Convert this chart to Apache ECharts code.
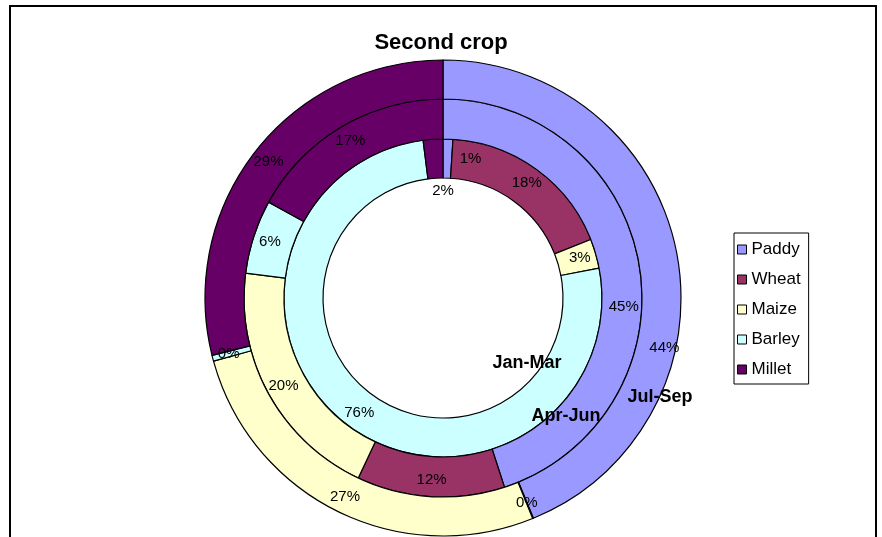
<!DOCTYPE html>
<html>
<head>
<meta charset="utf-8">
<script src="https://cdn.jsdelivr.net/npm/echarts@6/dist/echarts.min.js"></script>
<style>
  html, body { margin: 0; padding: 0; background: #fff; }
  #chart { width: 882px; height: 537px; }
</style>
</head>
<body>
<div id="chart"></div>
<script>
// Crop categories and their colours
const crops = ['Paddy', 'Wheat', 'Maize', 'Barley', 'Millet'];
const cropColors = ['#9999FF', '#993366', '#FFFFCC', '#CCFFFF', '#660066'];

// Share of second-crop area per quarter (percent)
const quarters = ['Jan-Mar', 'Apr-Jun', 'Jul-Sep'];
const janMar = [1, 18, 3, 76, 2];
const aprJun = [45, 12, 20, 6, 17];
const julSep = [44, 0.05, 27, 0.4, 29];
const quarterValues = [janMar, aprJun, julSep];

const FONT = '"Liberation Sans", Arial, sans-serif';
const center = [443, 298];
const ringRadii = [[120, 159], [159, 199], [199, 238]];

// Nudges for a few percentage labels, keyed by ring and crop (pixels)
const labelNudges = {
  'Jan-Mar': { Paddy: [23, 3], Millet: [9, 35] },
  'Apr-Jun': { Paddy: [1, 37] },
  'Jul-Sep': { Paddy: [4, 93] }
};

const chart = echarts.init(document.getElementById('chart'), null, { renderer: 'canvas' });

const series = quarters.map((q, i) => ({
  name: q,
  type: 'pie',
  center: center,
  radius: ringRadii[i],
  startAngle: 90,
  clockwise: true,
  animation: false,
  silent: true,
  percentPrecision: 0,
  avoidLabelOverlap: false,
  label: {
    show: true,
    position: 'inside',
    formatter: '{d}%',
    color: '#000',
    fontSize: 15,
    fontFamily: FONT
  },
  labelLine: { show: false },
  labelLayout: function (p) {
    const n = (labelNudges[q] || {})[crops[p.dataIndex]];
    return n ? { dx: n[0], dy: n[1] } : {};
  },
  itemStyle: { borderColor: '#000', borderWidth: 1.2 },
  emphasis: { disabled: true },
  data: crops.map((c, k) => ({
    name: c,
    value: quarterValues[i][k],
    itemStyle: { color: cropColors[k] }
  }))
}));

// Ring name captions
const ringCaptions = [
  { text: quarters[0], x: 527, y: 363 },
  { text: quarters[1], x: 566, y: 416 },
  { text: quarters[2], x: 660, y: 397 }
];

chart.setOption({
  backgroundColor: '#fff',
  color: cropColors,
  title: {
    text: 'Second crop',
    left: 'center',
    top: 27,
    textStyle: { fontFamily: FONT, fontSize: 22, fontWeight: 'bold', color: '#000' }
  },
  legend: {
    orient: 'vertical',
    left: 734,
    top: 233,
    padding: [8, 8, 6, 3],
    itemGap: 13,
    itemWidth: 9,
    itemHeight: 9,
    itemTextGap: 6,
    icon: 'rect',
    borderColor: '#000',
    borderWidth: 1,
    selectedMode: false,
    data: crops,
    itemStyle: { borderColor: '#000', borderWidth: 1 },
    textStyle: { fontFamily: FONT, fontSize: 17, color: '#000', lineHeight: 17 }
  },
  graphic: [
    {
      type: 'rect',
      shape: { x: 10, y: 6, width: 866, height: 560 },
      style: { fill: 'none', stroke: '#000', lineWidth: 2 },
      silent: true
    }
  ].concat(ringCaptions.map(c => ({
    type: 'text',
    x: c.x,
    y: c.y,
    z: 100,
    style: {
      text: c.text,
      fill: '#000',
      font: 'bold 18px ' + FONT,
      textAlign: 'center',
      textVerticalAlign: 'middle'
    },
    silent: true
  }))),
  series: series
});
</script>
</body>
</html>
